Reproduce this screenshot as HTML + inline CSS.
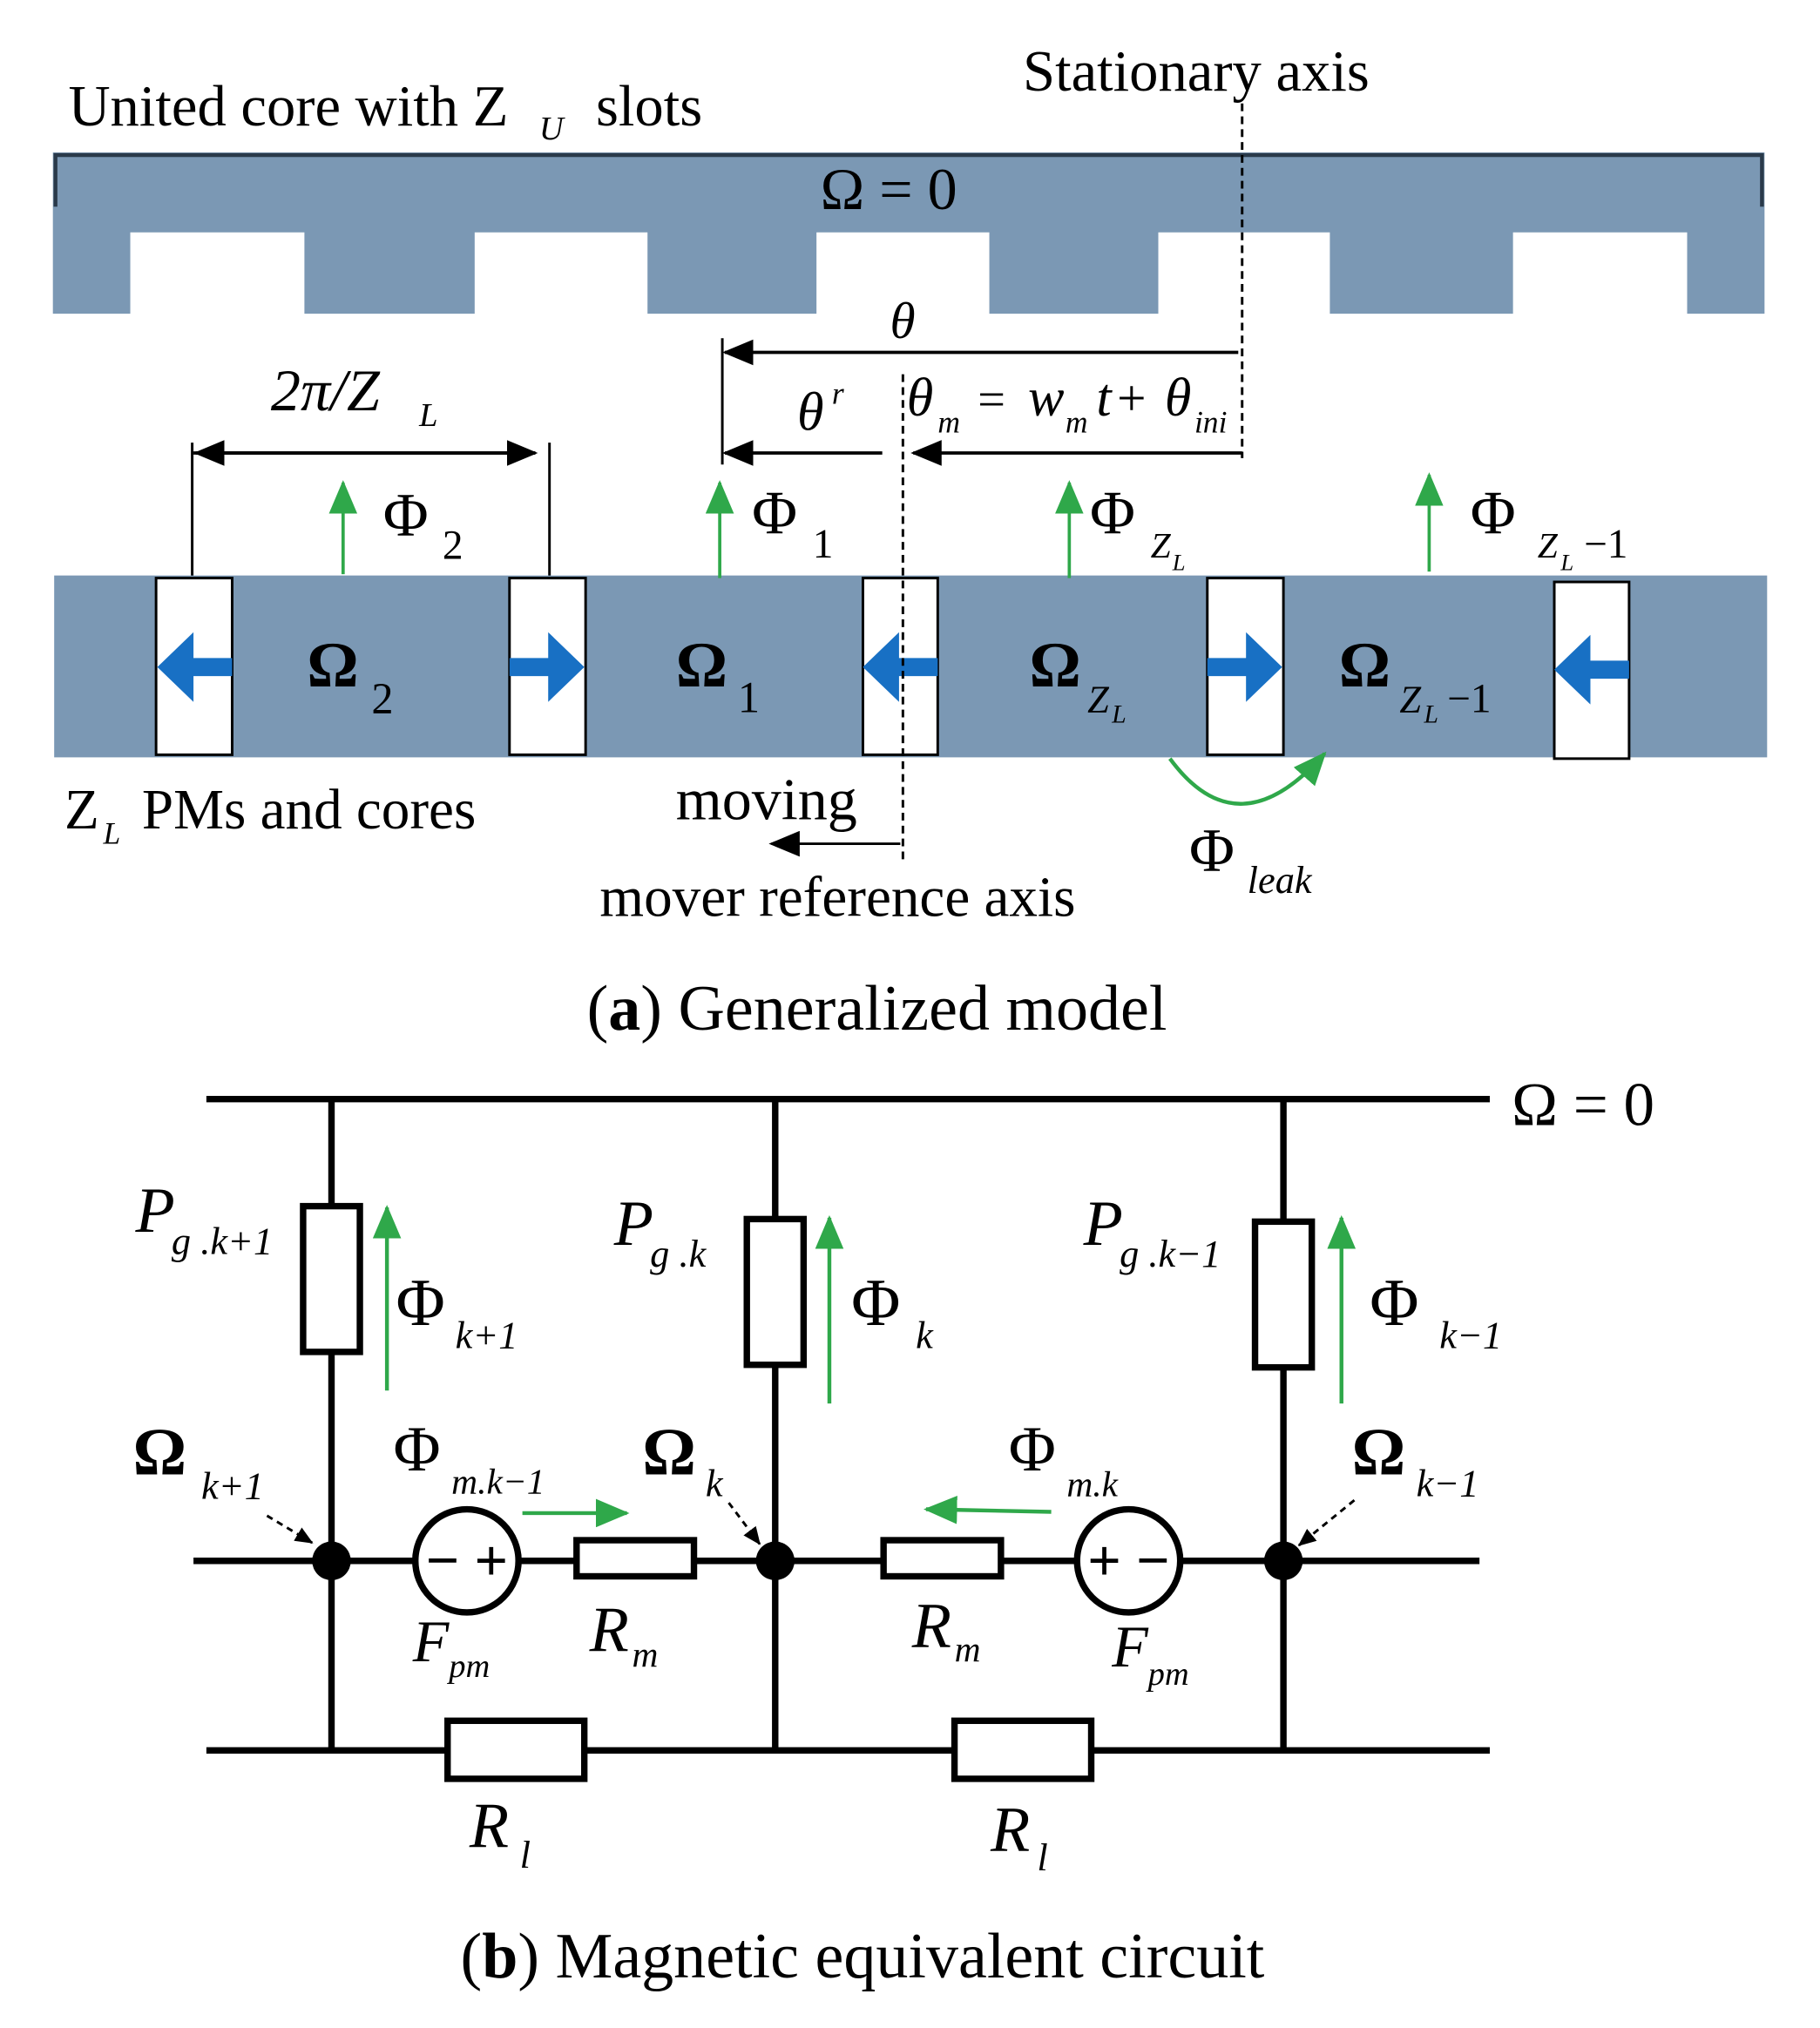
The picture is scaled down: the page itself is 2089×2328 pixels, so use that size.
<!DOCTYPE html>
<html><head><meta charset="utf-8"><style>
html,body{margin:0;padding:0;background:#fff}
svg{display:block}
text{font-family:"Liberation Serif",serif;fill:#000}
.i{font-style:italic}
</style></head><body>
<svg width="2089" height="2328" viewBox="0 0 1411 1572" xmlns="http://www.w3.org/2000/svg">
<defs>
<marker id="ab" markerWidth="24" markerHeight="20" refX="22" refY="10" orient="auto" markerUnits="userSpaceOnUse"><path d="M0,0 L24,10 L0,20 z" fill="#000"/></marker>
<marker id="as" markerWidth="14" markerHeight="12" refX="13" refY="6" orient="auto" markerUnits="userSpaceOnUse"><path d="M0,0 L14,6 L0,12 z" fill="#000"/></marker>
<marker id="ag" markerWidth="26" markerHeight="22" refX="24" refY="11" orient="auto" markerUnits="userSpaceOnUse"><path d="M0,0 L26,11 L0,22 z" fill="#2fa84a"/></marker>
</defs>
<!-- top core -->
<path d="M41,118 H1368 V243 H1308 V180 H1173 V243 H1031 V180 H898 V243 H767 V180 H633 V243 H502 V180 H368 V243 H236 V180 H101 V243 H41 Z" fill="#7b98b4"/>
<path d="M43,160 V120 H1366 V160" fill="none" stroke="#2a3a4a" stroke-width="3"/>
<text x="53" y="97" font-size="45">United core with Z</text>
<text x="418" y="108" font-size="26" class="i">U</text>
<text x="462" y="97" font-size="45">slots</text>
<text x="793" y="70" font-size="45">Stationary axis</text>
<text x="636" y="162" font-size="46">Ω = 0</text>
<line x1="963" y1="80" x2="963" y2="355" stroke="#000" stroke-width="2" stroke-dasharray="6,4"/>
<!-- dims -->
<line x1="960" y1="273" x2="562" y2="273" stroke="#000" stroke-width="2.5" marker-end="url(#ab)"/>
<line x1="560" y1="262" x2="560" y2="360" stroke="#000" stroke-width="2"/>
<text x="690" y="262" font-size="40" class="i">θ</text>
<line x1="684" y1="351" x2="562" y2="351" stroke="#000" stroke-width="2.5" marker-end="url(#ab)"/>
<line x1="963" y1="351" x2="708" y2="351" stroke="#000" stroke-width="2.5" marker-end="url(#ab)"/>
<text x="618" y="333" font-size="42" class="i">θ</text><text x="645" y="313" font-size="24" class="i">r</text>
<text x="703" y="322" font-size="42" class="i">θ</text><text x="727" y="335" font-size="24" class="i">m</text>
<text x="758" y="322" font-size="38">=</text><text x="797" y="322" font-size="42" class="i">w</text><text x="826" y="335" font-size="24" class="i">m</text><text x="850" y="322" font-size="42" class="i">t</text><text x="866" y="322" font-size="40">+</text><text x="903" y="322" font-size="42" class="i">θ</text><text x="926" y="335" font-size="24" class="i">ini</text>
<line x1="150" y1="351" x2="415" y2="351" stroke="#000" stroke-width="2.5" marker-end="url(#ab)"/>
<line x1="415" y1="351" x2="152" y2="351" stroke="#000" stroke-width="2.5" marker-end="url(#ab)"/>
<line x1="149" y1="343" x2="149" y2="447" stroke="#000" stroke-width="2"/>
<line x1="426" y1="343" x2="426" y2="447" stroke="#000" stroke-width="2"/>
<text x="210" y="318" font-size="46" class="i">2π/Z</text><text x="325" y="330" font-size="26" class="i">L</text>
<!-- mover -->
<rect x="42" y="446" width="1328" height="141" fill="#7b98b4"/>
<g fill="#fff" stroke="#000" stroke-width="2">
<rect x="121" y="448" width="59" height="137"/><rect x="395" y="448" width="59" height="137"/><rect x="669" y="448" width="58" height="137"/><rect x="936" y="448" width="59" height="137"/><rect x="1205" y="451" width="58" height="137"/>
</g>
<g fill="#1870c4">
<path d="M180,510 H150 V490 L122,517 L150,544 V524 H180 Z"/>
<path d="M395,510 H425 V490 L453,517 L425,544 V524 H395 Z"/>
<path d="M727,510 H697 V490 L669,517 L697,544 V524 H727 Z"/>
<path d="M936,510 H966 V490 L994,517 L966,544 V524 H936 Z"/>
<path d="M1263,512 H1233 V492 L1205,519 L1233,546 V526 H1263 Z"/>
</g>
<line x1="700" y1="290" x2="700" y2="670" stroke="#000" stroke-width="2" stroke-dasharray="6,4"/>
<g stroke="#2fa84a" stroke-width="2.5">
<line x1="266" y1="445" x2="266" y2="374" marker-end="url(#ag)"/>
<line x1="558" y1="448" x2="558" y2="374" marker-end="url(#ag)"/>
<line x1="829" y1="448" x2="829" y2="374" marker-end="url(#ag)"/>
<line x1="1108" y1="443" x2="1108" y2="368" marker-end="url(#ag)"/>
<path d="M907,588 Q960,660 1027,584" fill="none" stroke-width="3" marker-end="url(#ag)"/>
</g>
<text x="297" y="415" font-size="48">Φ</text><text x="343" y="433" font-size="32">2</text>
<text x="583" y="413" font-size="48">Φ</text><text x="630" y="432" font-size="32">1</text>
<text x="845" y="413" font-size="48">Φ</text><text x="892" y="432" font-size="28" class="i">Z</text><text x="909" y="442" font-size="18" class="i">L</text>
<text x="1140" y="413" font-size="48">Φ</text><text x="1192" y="432" font-size="28" class="i">Z</text><text x="1210" y="442" font-size="18" class="i">L</text><text x="1228" y="432" font-size="32">−1</text>
<text x="238" y="532" font-size="50" font-weight="bold">Ω</text><text x="288" y="553" font-size="34">2</text>
<text x="524" y="532" font-size="50" font-weight="bold">Ω</text><text x="572" y="552" font-size="34">1</text>
<text x="798" y="532" font-size="50" font-weight="bold">Ω</text><text x="843" y="552" font-size="30" class="i">Z</text><text x="862" y="560" font-size="20" class="i">L</text>
<text x="1038" y="532" font-size="50" font-weight="bold">Ω</text><text x="1085" y="552" font-size="30" class="i">Z</text><text x="1104" y="560" font-size="20" class="i">L</text><text x="1122" y="552" font-size="32">−1</text>
<text x="50" y="642" font-size="44">Z</text><text x="80" y="654" font-size="24" class="i">L</text><text x="110" y="642" font-size="44">PMs and  cores</text>
<text x="524" y="635" font-size="46">moving</text>
<line x1="698" y1="654" x2="598" y2="654" stroke="#000" stroke-width="2" marker-end="url(#ab)"/>
<text x="465" y="710" font-size="44">mover reference axis</text>
<text x="922" y="675" font-size="48">Φ</text><text x="967" y="692" font-size="30" class="i">leak</text>
<text x="455" y="798" font-size="50">(<tspan font-weight="bold">a</tspan>) Generalized model</text>
<!-- circuit -->
<g stroke="#000" stroke-width="5" fill="none">
<line x1="160" y1="852" x2="1155" y2="852"/>
<line x1="150" y1="1210" x2="1147" y2="1210"/>
<line x1="160" y1="1357" x2="1155" y2="1357"/>
<line x1="257" y1="852" x2="257" y2="1357"/>
<line x1="601" y1="852" x2="601" y2="1357"/>
<line x1="995" y1="852" x2="995" y2="1357"/>
</g>
<g stroke="#000" stroke-width="5" fill="#fff">
<rect x="235" y="935" width="44" height="113"/>
<rect x="579" y="945" width="44" height="113"/>
<rect x="973" y="947" width="44" height="113"/>
<rect x="447" y="1194" width="91" height="28"/>
<rect x="685" y="1194" width="91" height="28"/>
<rect x="347" y="1334" width="106" height="45"/>
<rect x="740" y="1334" width="106" height="45"/>
<circle cx="362" cy="1210" r="40"/>
<circle cx="875" cy="1210" r="40"/>
</g>
<text x="362" y="1225" font-size="46" font-weight="bold" text-anchor="middle">− +</text>
<text x="875" y="1225" font-size="46" font-weight="bold" text-anchor="middle">+ −</text>
<g fill="#000"><circle cx="257" cy="1210" r="15"/><circle cx="601" cy="1210" r="15"/><circle cx="995" cy="1210" r="15"/></g>
<text x="1172" y="872" font-size="48">Ω = 0</text>
<g stroke="#2fa84a" stroke-width="3">
<line x1="300" y1="1078" x2="300" y2="936" marker-end="url(#ag)"/>
<line x1="643" y1="1088" x2="643" y2="944" marker-end="url(#ag)"/>
<line x1="1040" y1="1088" x2="1040" y2="944" marker-end="url(#ag)"/>
<line x1="405" y1="1173" x2="486" y2="1173" marker-end="url(#ag)"/>
<line x1="815" y1="1172" x2="718" y2="1170" marker-end="url(#ag)"/>
</g>
<g stroke="#000" stroke-width="2" stroke-dasharray="5,4">
<line x1="207" y1="1175" x2="242" y2="1196" marker-end="url(#as)"/>
<line x1="565" y1="1165" x2="589" y2="1197" marker-end="url(#as)"/>
<line x1="1050" y1="1163" x2="1007" y2="1198" marker-end="url(#as)"/>
</g>
<text x="105" y="955" font-size="50" class="i">P</text><text x="133" y="972" font-size="30" class="i">g .k+1</text>
<text x="476" y="965" font-size="50" class="i">P</text><text x="504" y="982" font-size="30" class="i">g .k</text>
<text x="840" y="965" font-size="50" class="i">P</text><text x="868" y="982" font-size="30" class="i">g .k−1</text>
<text x="307" y="1027" font-size="52">Φ</text><text x="353" y="1045" font-size="30" class="i">k+1</text>
<text x="660" y="1027" font-size="52">Φ</text><text x="710" y="1045" font-size="30" class="i">k</text>
<text x="1062" y="1027" font-size="52">Φ</text><text x="1116" y="1045" font-size="30" class="i">k−1</text>
<text x="103" y="1143" font-size="52" font-weight="bold">Ω</text><text x="156" y="1162" font-size="30" class="i">k+1</text>
<text x="305" y="1140" font-size="50">Φ</text><text x="350" y="1158" font-size="28" class="i">m.k−1</text>
<text x="498" y="1143" font-size="52" font-weight="bold">Ω</text><text x="547" y="1160" font-size="30" class="i">k</text>
<text x="782" y="1140" font-size="50">Φ</text><text x="827" y="1160" font-size="28" class="i">m.k</text>
<text x="1048" y="1143" font-size="52" font-weight="bold">Ω</text><text x="1098" y="1160" font-size="30" class="i">k−1</text>
<text x="320" y="1288" font-size="46" class="i">F</text><text x="348" y="1300" font-size="26" class="i">pm</text>
<text x="862" y="1292" font-size="46" class="i">F</text><text x="890" y="1306" font-size="26" class="i">pm</text>
<text x="457" y="1280" font-size="50" class="i">R</text><text x="490" y="1292" font-size="28" class="i">m</text>
<text x="707" y="1277" font-size="50" class="i">R</text><text x="740" y="1288" font-size="28" class="i">m</text>
<text x="364" y="1432" font-size="50" class="i">R</text><text x="403" y="1448" font-size="30" class="i">l</text>
<text x="768" y="1435" font-size="50" class="i">R</text><text x="804" y="1450" font-size="30" class="i">l</text>
<text x="357" y="1533" font-size="50">(<tspan font-weight="bold">b</tspan>) Magnetic equivalent circuit</text>
</svg>
</body></html>
